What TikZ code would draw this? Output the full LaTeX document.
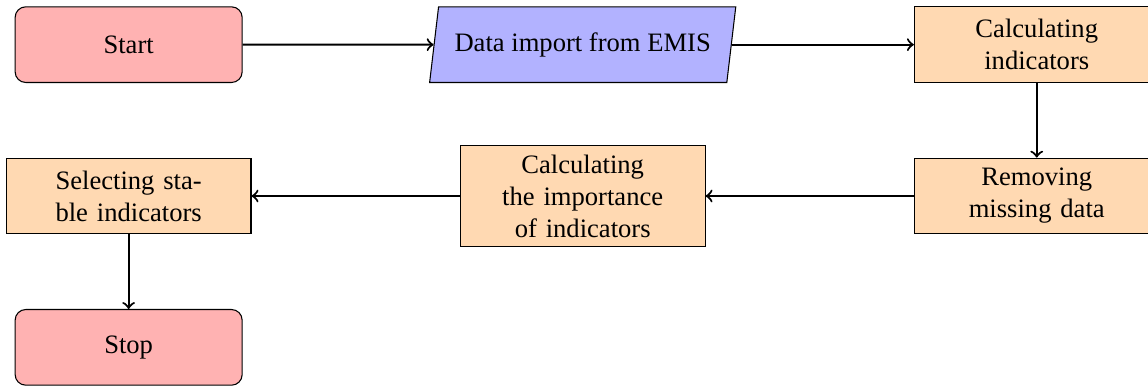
\documentclass[tikz,border=0pt]{standalone}
\usepackage{fontspec}
\setmainfont{Liberation Serif}
\usetikzlibrary{shapes.geometric}

\begin{document}
\begin{tikzpicture}[>=to,
  startstop/.style={rectangle, rounded corners, draw, fill=red!30,
    minimum width=3cm, minimum height=1cm, align=center},
  io/.style={trapezium, trapezium left angle=78, trapezium right angle=102,
    trapezium stretches=true, draw, fill=blue!30, inner xsep=6pt,
    minimum width=3cm, minimum height=1cm, align=center},
  process/.style={rectangle, draw, fill=orange!30, text width=3cm,
    minimum width=3cm, minimum height=1cm, align=center},
  arrow/.style={thick, ->}]
  \useasboundingbox (-1.70,0.59) rectangle (13.47,-4.54);
  % first row
  \node[startstop] (start) at (0,0) {Start};
  \node[io] (import) at (6,0) {Data import from EMIS};
  \node[process] (calc) at (12,0) {Calculating\\indicators};
  % second row
  \node[process] (missing) at (12,-2) {Removing\\missing data};
  \node[process] (importance) at (6,-2) {Calculating\\the importance\\of indicators};
  \node[process] (select) at (0,-2) {Selecting sta-\\ble indicators};
  % end
  \node[startstop] (stop) at (0,-4) {Stop};
  \draw[arrow] (start) -- (import);
  \draw[arrow] (import) -- (calc);
  \draw[arrow] (calc) -- (missing);
  \draw[arrow] (missing) -- (importance);
  \draw[arrow] (importance) -- (select);
  \draw[arrow] (select) -- (stop);
\end{tikzpicture}
\end{document}
